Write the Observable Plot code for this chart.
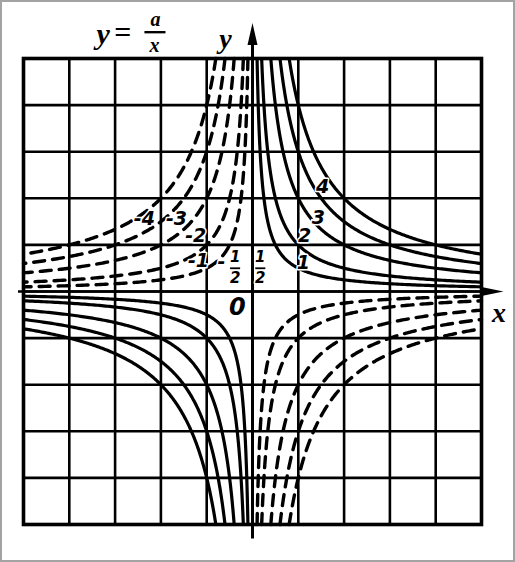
<!DOCTYPE html>
<html>
<head>
<meta charset="utf-8">
<script src="https://cdn.jsdelivr.net/npm/d3@7"></script>
<script src="https://cdn.jsdelivr.net/npm/@observablehq/plot@0.6"></script>
<style>
  html, body { margin: 0; padding: 0; background: #fff; }
  #chart svg { display: block; outline: 2px solid #a3a3a3; outline-offset: -2px; }
</style>
</head>
<body>
<div id="chart"></div>
<script>
// parameter a of y = a/x : solid curves (a > 0) and dashed curves (a < 0)
const aPositive = [0.5, 1, 2, 3, 4];
const aNegative = [-0.5, -1, -2, -3, -4];
// grid lines (one cell = one unit)
const gridTicks = [-5, -4, -3, -2, -1, 0, 1, 2, 3, 4, 5];
// curve labels
const labelText = ["4", "3", "2", "1", "-4", "-3", "-2", "-1"];
const labelX    = [1.53, 1.44, 1.14, 1.11, -2.36, -1.66, -1.24, -1.18];
const labelY    = [2.24, 1.57, 1.20, 0.62, 1.55, 1.55, 1.20, 0.66];
// the two "1/2" fraction labels (a = 1/2 and a = -1/2)
const halfX = [0.17, -0.38];
const halfY = [0.52, 0.52];
const minusHalfX = [-0.68];
const minusHalfY = [0.64];

const xMax = 5, yMax = 5;

// sample each branch of y = a/x between the frame edges
function branches(list) {
  const out = [];
  for (const a of list) {
    for (const s of [1, -1]) {
      const x0 = Math.abs(a) / yMax;
      const n = 240;
      for (let i = 0; i < n; i++) {
        const ax = x0 * Math.pow(xMax / x0, i / (n - 1));
        const x = s * ax;
        out.push({ key: a + "_" + s, a, x, y: a / x });
      }
    }
  }
  return out;
}
const solidData = branches(aPositive);
const dashedData = branches(aNegative);

const labels = labelText.map((t, i) => ({ t, x: labelX[i], y: labelY[i] }));
const halves = halfX.map((x, i) => ({ x, y: halfY[i], x1: x - 0.11, x2: x + 0.11 }));

// arrowhead symbols
const arrowUp = { draw(ctx) { ctx.moveTo(0, 0); ctx.lineTo(5, 22); ctx.lineTo(-5, 22); ctx.closePath(); } };
const arrowRight = { draw(ctx) { ctx.moveTo(0, 0); ctx.lineTo(-22, -4.5); ctx.lineTo(-22, 4.5); ctx.closePath(); } };

const numFont = "DejaVu Sans";
const letterFont = "Liberation Serif";
const numStyle = { fontFamily: numFont, fontStyle: "italic", fontWeight: "bold", fill: "black", stroke: "white", strokeWidth: 3 };
const letStyle = { fontFamily: letterFont, fontStyle: "italic", fontWeight: "bold", fill: "black" };

const chart = Plot.plot({
  width: 515,
  height: 562,
  marginLeft: 23,
  marginRight: 34,
  marginTop: 58,
  marginBottom: 38,
  x: { domain: [-5, 5], axis: null },
  y: { domain: [-5, 5], axis: null },
  style: { background: "white", overflow: "visible" },
  marks: [
    Plot.ruleX(gridTicks, { stroke: "black", strokeWidth: 2.6 }),
    Plot.ruleY(gridTicks, { stroke: "black", strokeWidth: 2.6 }),
    Plot.frame({ stroke: "black", strokeWidth: 3.6 }),
    // axes
    Plot.link([{ x1: -5.12, x2: 5.3, y: 0 }], { x1: "x1", x2: "x2", y1: "y", y2: "y", stroke: "black", strokeWidth: 2.4 }),
    Plot.link([{ y1: -5.3, y2: 5.4, x: 0 }], { y1: "y1", y2: "y2", x1: "x", x2: "x", stroke: "black", strokeWidth: 3 }),
    Plot.dot([{ x: 5.48, y: 0 }], { x: "x", y: "y", r: 5, symbol: arrowRight, fill: "black", stroke: "none" }),
    Plot.dot([{ x: 0, y: 5.76 }], { x: "x", y: "y", r: 5, symbol: arrowUp, fill: "black", stroke: "none" }),
    // curves
    Plot.line(solidData, { x: "x", y: "y", z: "key", stroke: "black", strokeWidth: 3.2 }),
    Plot.line(dashedData, { x: "x", y: "y", z: "key", stroke: "black", strokeWidth: 3.4, strokeDasharray: "11,8", strokeLinecap: "round" }),
    // curve labels
    Plot.text(labels, { x: "x", y: "y", text: "t", fontSize: 19, ...numStyle }),
    Plot.text(halves, { x: "x", y: "y", text: () => "1", dy: -10, fontSize: 15, ...numStyle }),
    Plot.text(halves, { x: "x", y: "y", text: () => "2", dy: 11, fontSize: 15, ...numStyle }),
    Plot.link(halves, { x1: "x1", x2: "x2", y1: "y", y2: "y", dy: 1, stroke: "black", strokeWidth: 1.8 }),
    Plot.text(minusHalfX.map((x, i) => ({ x, y: minusHalfY[i] })), { x: "x", y: "y", text: () => "-", fontSize: 19, ...numStyle }),
    Plot.text([{ x: -0.33, y: -0.35 }], { x: "x", y: "y", text: () => "0", fontSize: 24, ...numStyle }),
    // axis letters
    Plot.text([{ x: -0.59, y: 5.42 }], { x: "x", y: "y", text: () => "y", fontSize: 28, ...letStyle }),
    Plot.text([{ x: 5.38, y: -0.47 }], { x: "x", y: "y", text: () => "x", fontSize: 28, ...letStyle }),
    // title  y = a / x
    Plot.text([{ x: -3.26, y: 5.52 }], { x: "x", y: "y", text: () => "y", fontSize: 30, ...letStyle }),
    Plot.text([{ x: -2.84, y: 5.56 }], { x: "x", y: "y", text: () => "=", fontSize: 30, ...letStyle }),
    Plot.text([{ x: -2.12, y: 5.83 }], { x: "x", y: "y", text: () => "a", fontSize: 20, ...letStyle }),
    Plot.text([{ x: -2.14, y: 5.28 }], { x: "x", y: "y", text: () => "x", fontSize: 20, ...letStyle }),
    Plot.link([{ x1: -2.36, x2: -1.9, y: 5.565 }], { x1: "x1", x2: "x2", y1: "y", y2: "y", stroke: "black", strokeWidth: 2.4 })
  ]
});
document.getElementById("chart").appendChild(chart);
</script>
</body>
</html>
